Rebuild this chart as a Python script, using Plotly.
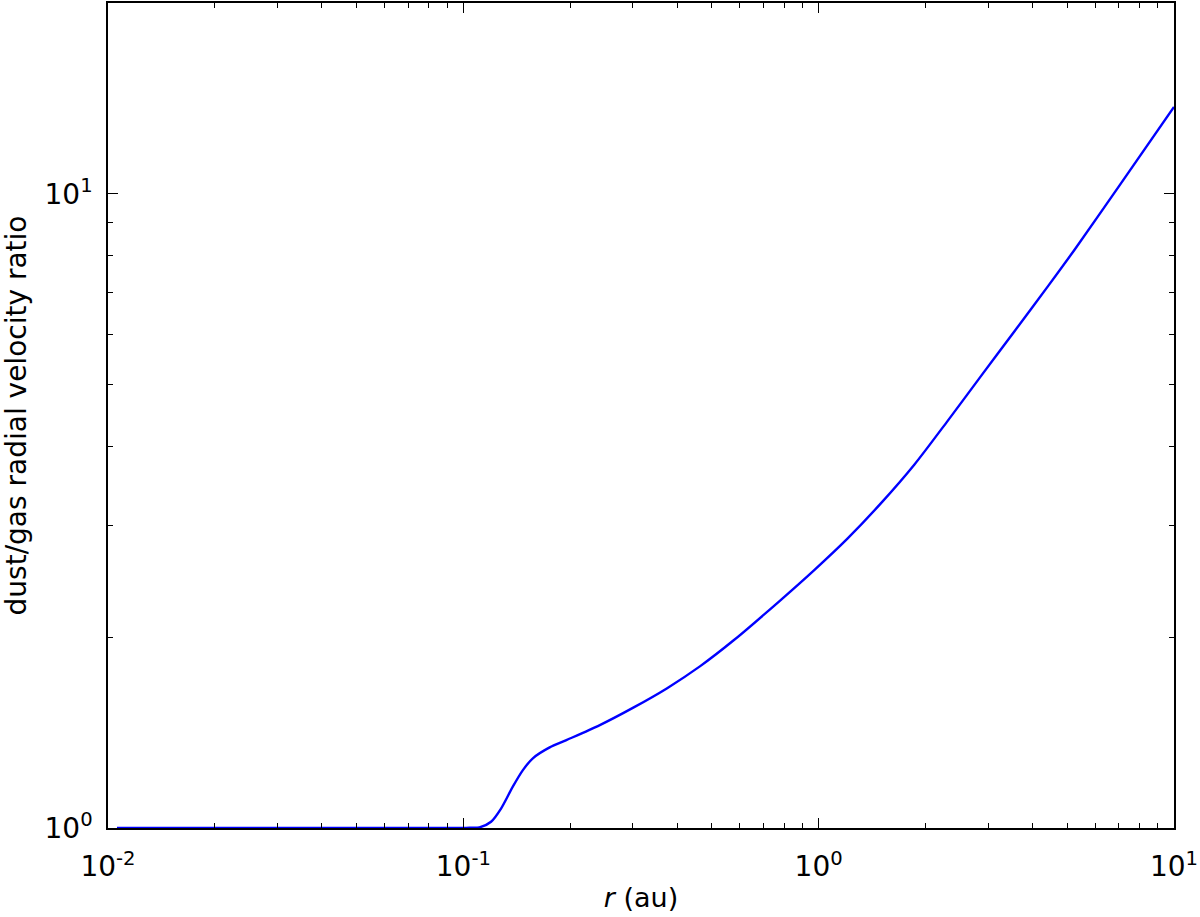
import plotly.graph_objects as go

# radius (au) and dust/gas radial velocity ratio
r_au = [0.0106, 0.05, 0.1, 0.105, 0.111, 0.1197, 0.1278, 0.1378, 0.1471,
        0.1569, 0.175, 0.195, 0.2422, 0.3008, 0.3737, 0.4642, 0.5765,
        0.776, 0.970, 1.205, 1.496, 1.858, 2.310, 2.869, 3.562, 4.426,
        5.262, 6.98, 10.0]
ratio = [1.0, 1.0, 1.0, 1.001, 1.0025, 1.023, 1.074, 1.162, 1.234,
         1.288, 1.340, 1.376, 1.453, 1.548, 1.660, 1.800, 1.977,
         2.280, 2.549, 2.860, 3.250, 3.740, 4.390, 5.169, 6.080, 7.160,
         8.18, 10.26, 13.71]

x_ticks = [0.01, 0.1, 1, 10]
x_labels = ["10<sup>-2</sup>", "10<sup>-1</sup>", "10<sup>0</sup>", "10<sup>1</sup>"]
y_ticks = [1, 10]
y_labels = ["10<sup>0</sup>", "10<sup>1</sup>"]
x_minor = [m * d for d in (0.01, 0.1, 1) for m in range(2, 10)]
y_minor = [m * d for d in (1, 10) for m in range(2, 10) if m * d <= 20]

fig = go.Figure()
fig.add_trace(go.Scatter(x=r_au, y=ratio, mode="lines",
                         line=dict(color="#0000ff", width=2.4, shape="spline", smoothing=0.8)))

axis_style = dict(
    type="log", showgrid=False, zeroline=False, automargin=False,
    showline=True, linecolor="black", linewidth=1.5, mirror="allticks",
    ticks="inside", ticklen=10, tickwidth=1.2, tickcolor="black",
    tickfont=dict(family="DejaVu Sans", size=28, color="black"),
)
minor_style = dict(tickmode="array", ticks="inside", ticklen=5, tickwidth=1,
                   tickcolor="black", showgrid=False)

fig.update_xaxes(axis_style, range=[-2, 1], tickvals=x_ticks, ticktext=x_labels,
                 ticklabelstandoff=13,
                 minor=dict(minor_style, tickvals=x_minor),
                 title=dict(text="<i>r</i> (au)", standoff=6,
                            font=dict(family="DejaVu Sans", size=27, color="black")))
fig.update_yaxes(axis_style, range=[0, 1.30103], tickvals=y_ticks, ticktext=y_labels,
                 ticklabelstandoff=8,
                 minor=dict(minor_style, tickvals=y_minor),
                 title=dict(text="dust/gas radial velocity ratio", standoff=10,
                            font=dict(family="DejaVu Sans", size=28, color="black")))

fig.update_layout(
    width=1200, height=917,
    margin=dict(l=108, r=26, t=3, b=89),
    plot_bgcolor="white", paper_bgcolor="white",
    showlegend=False,
)

fig.write_html("out.html", config={"displayModeBar": False},
               post_script="document.body.style.margin='0';")
